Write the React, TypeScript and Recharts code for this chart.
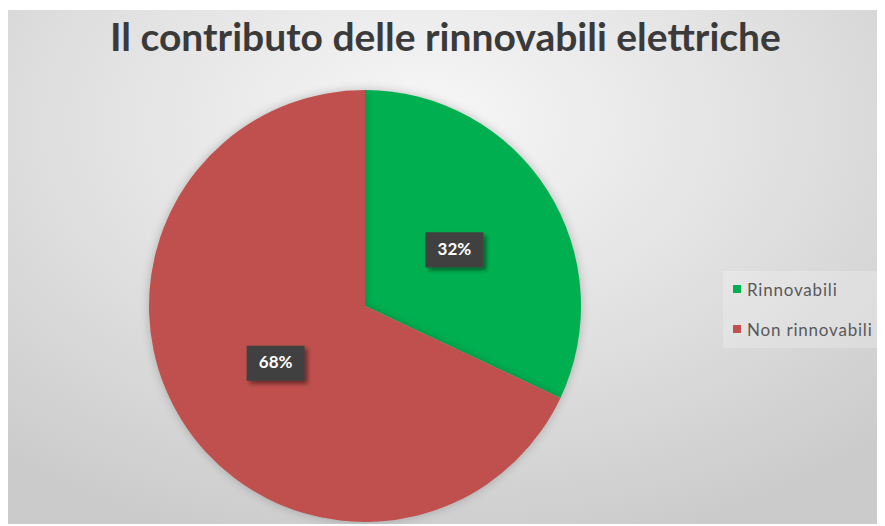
import { PieChart, Pie, Cell, Legend } from 'recharts';

const categories = ['Rinnovabili', 'Non rinnovabili'];
const shares = [32, 68];
const sliceColors = ['#00B050', '#C0504D'];

const chartData = categories.map((name, i) => ({ name, value: shares[i] }));

const RADIAN = Math.PI / 180;

function renderLabel(props: any) {
  const { cx, cy, midAngle, outerRadius, value, index } = props;
  const r = outerRadius * 0.49;
  const x = cx + r * Math.cos(-midAngle * RADIAN);
  const y = cy + r * Math.sin(-midAngle * RADIAN);
  const id = `lblshadow${index}`;
  return (
    <g>
      <defs>
        <filter id={id} x="-30%" y="-30%" width="160%" height="160%">
          <feDropShadow dx="3" dy="3" stdDeviation="2" floodColor="#000" floodOpacity="0.45" />
        </filter>
      </defs>
      <rect x={x - 29} y={y - 17} width={58} height={35} fill="#404040" filter={`url(#${id})`} />
      <text
        x={x}
        y={y + 1}
        fill="#ffffff"
        textAnchor="middle"
        dominantBaseline="middle"
        fontFamily="Lato, 'Open Sans', sans-serif"
        fontWeight={700}
        fontSize={17}
      >
        {`${value}%`}
      </text>
    </g>
  );
}

function LegendBox() {
  return (
    <div
      style={{
        width: 162,
        height: 77,
        background: 'rgba(255,255,255,0.22)',
        fontFamily: 'Lato, "Open Sans", sans-serif',
        fontSize: 17,
        letterSpacing: 0.8,
        color: '#595959',
        boxSizing: 'border-box',
        paddingTop: 7,
        paddingLeft: 10,
      }}
    >
      {categories.map((c, i) => (
        <div key={c} style={{ display: 'flex', alignItems: 'center', height: 22, marginBottom: i === 0 ? 18 : 0 }}>
          <span style={{ width: 8, height: 8, background: sliceColors[i], display: 'inline-block', marginRight: 6 }} />
          <span>{c}</span>
        </div>
      ))}
    </div>
  );
}

export default function App() {
  return (
    <div
      style={{
        position: 'relative',
        width: 879,
        height: 516,
        left: -2,
        top: 2,
        overflow: 'hidden',
        background: 'radial-gradient(ellipse 75% 85% at 48% 22%, #f7f7f7 0%, #e2e2e2 50%, #cbcbcb 100%)',
      }}
    >
      <style>{'.recharts-pie-sector { filter: drop-shadow(0 0 5px rgba(0,0,0,0.22)); }'}</style>
      <div
        style={{
          position: 'absolute',
          top: 3,
          left: 0,
          width: 879,
          textAlign: 'center',
          fontFamily: 'Lato, "Open Sans", sans-serif',
          fontWeight: 700,
          fontSize: 39,
          color: '#3a3a3a',
          whiteSpace: 'nowrap',
        }}
      >
        Il contributo delle rinnovabili elettriche
      </div>
      <PieChart
        width={879}
        height={516}
        margin={{ top: 0, right: 0, bottom: 0, left: 0 }}
        style={{ position: 'absolute', top: 0, left: 0 }}
      >
        <Pie
          data={chartData}
          dataKey="value"
          nameKey="name"
          cx={359}
          cy={296}
          outerRadius={216}
          startAngle={90}
          endAngle={-270}
          stroke="none"
          labelLine={false}
          label={renderLabel}
          isAnimationActive={false}
        >
          {chartData.map((_, i) => (
            <Cell key={i} fill={sliceColors[i]} />
          ))}
        </Pie>
        <Legend
          content={() => <LegendBox />}
          wrapperStyle={{ position: 'absolute', left: 717, top: 261, width: 162, height: 77 }}
        />
      </PieChart>
    </div>
  );
}
